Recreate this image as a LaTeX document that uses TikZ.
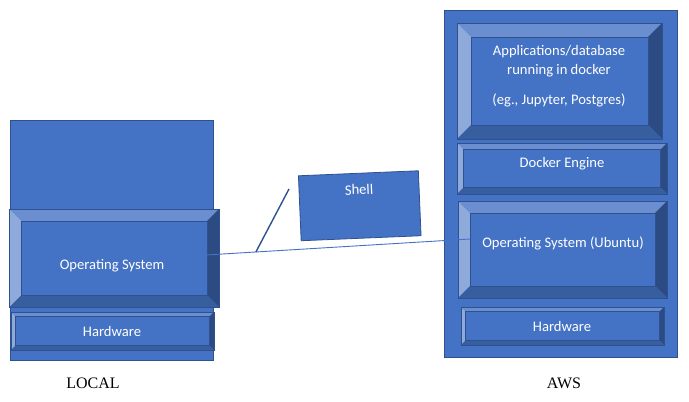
\documentclass[tikz,border=0pt]{standalone}
\usepackage{fontspec}
\setmainfont{Carlito}
\newfontfamily\timesfont{Liberation Serif}
\usetikzlibrary{calc}
\definecolor{face}{HTML}{4472C4}
\definecolor{edge}{HTML}{2F528F}
\definecolor{bvtop}{HTML}{6A8ED0}
\definecolor{bvleft}{HTML}{8EAADB}
\definecolor{bvright}{HTML}{2C4B82}
\definecolor{bvbot}{HTML}{375E9F}
\definecolor{linkblue}{HTML}{4472C4}
\tikzset{
  outerbox/.style={fill=face, draw=edge, line width=0.8pt},
  boxtext/.style={text=white, font=\fontsize{14.6}{17}\selectfont, align=center, inner sep=0pt},
  caption/.style={font=\timesfont\fontsize{16}{19}\selectfont, inner sep=0pt},
  shellbox/.style={fill=face, draw=edge, line width=0.8pt, minimum width=120pt, minimum height=65pt, rotate=2.4, inner sep=0pt},
  thinlink/.style={draw=linkblue, line width=0.9pt},
  darklink/.style={draw=edge, line width=1.4pt},
}
% name, x1, y1, x2, y2, depth
\newcommand{\bevelbox}[6]{%
  \fill[face] (#2,#3) rectangle (#4,#5);
  \fill[bvtop] (#2,#3) -- (#4,#3) -- ($(#4,#3)+(-#6,#6)$) -- ($(#2,#3)+(#6,#6)$) -- cycle;
  \fill[bvleft] (#2,#3) -- ($(#2,#3)+(#6,#6)$) -- ($(#2,#5)+(#6,-#6)$) -- (#2,#5) -- cycle;
  \fill[bvright] (#4,#3) -- (#4,#5) -- ($(#4,#5)+(-#6,-#6)$) -- ($(#4,#3)+(-#6,#6)$) -- cycle;
  \fill[bvbot] (#2,#5) -- (#4,#5) -- ($(#4,#5)+(-#6,-#6)$) -- ($(#2,#5)+(#6,-#6)$) -- cycle;
  \draw[edge, line width=0.6pt] (#2,#3) rectangle (#4,#5);
  \draw[edge, line width=0.3pt] ($(#2,#3)+(#6,#6)$) rectangle ($(#4,#5)+(-#6,-#6)$);
  \node[inner sep=0pt, minimum width={(#4-#2)*1pt}, minimum height={(#5-#3)*1pt}] (#1) at ($(#2,#3)!0.5!(#4,#5)$) {};
}
\begin{document}
\begin{tikzpicture}[x=1pt, y=-1pt]
\useasboundingbox (0,0) rectangle (689,402);
\fill[white] (0,0) rectangle (689,402);

% LOCAL side
\draw[outerbox] (10,120) rectangle (213,360);
\node[inner sep=0pt, minimum width=203pt, minimum height=240pt] (localbox) at (111.5,240) {};
\bevelbox{los}{9.5}{209}{219}{307}{12}
\bevelbox{lhw}{11}{312}{214}{350}{4.5}
\node[boxtext] (lostext) at (112,266) {Operating System};
\node[boxtext] (lhwtext) at (112,331) {Hardware};
\node[caption] (local) at (93,383) {LOCAL};

% AWS side
\draw[outerbox] (444,10) rectangle (677,357);
\node[inner sep=0pt, minimum width=233pt, minimum height=347pt] (awsbox) at (560.5,183.5) {};
\bevelbox{apps}{457}{23}{662}{139}{14}
\bevelbox{docker}{457}{143}{667}{194}{6.5}
\bevelbox{ubuntu}{458}{201}{667}{298}{12}
\bevelbox{rhw}{461}{307}{664}{345}{4.5}
\node[boxtext] (appstext) at (559,52) {Applications/database};
\node[boxtext] (appstext2) at (559,71) {running in docker};
\node[boxtext] (appstext3) at (559,100) {(eg., Jupyter, Postgres)};
\node[boxtext] (dockertext) at (562,164) {Docker Engine};
\node[boxtext] (ubuntutext) at (563,243) {Operating System (Ubuntu)};
\node[boxtext] (rhwtext) at (562,326) {Hardware};
\node[caption] (aws) at (564,383) {AWS};

% Shell
\node[shellbox] (shell) at (359.75,205.75) {};
\node[boxtext, rotate=2.4] (shelltext) at ($(shell.center)!0.49!(shell.north)$) {Shell};

% connectors
\coordinate (p1) at (206,255);
\coordinate (p2) at (470,239);
\coordinate (p3) at ($(p1)!0.189!(p2)$);
\coordinate (p4) at (289,189);
\draw[thinlink] (p1) -- (p2);
\draw[darklink] (p4) -- (p3);
\end{tikzpicture}
\end{document}
